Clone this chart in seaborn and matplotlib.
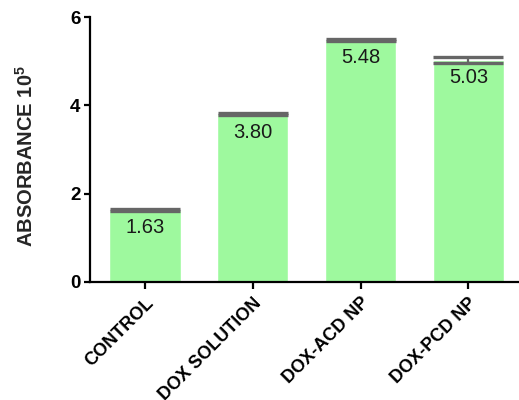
import numpy as np
import pandas as pd
import matplotlib
matplotlib.use("Agg")
import matplotlib.pyplot as plt
import seaborn as sns

# Absorbance readings (x10^5) per formulation
groups = ["CONTROL", "DOX SOLUTION", "DOX-ACD NP", "DOX-PCD NP"]
absorbance = [1.63, 3.80, 5.48, 5.03]
sem = [0.02, 0.03, 0.015, 0.065]
value_labels = ["1.63", "3.80", "5.48", "5.03"]
y_ticks = [0, 2, 4, 6]

sns.set_theme(style="ticks")
plt.rcParams["font.family"] = ["Liberation Sans", "DejaVu Sans"]
plt.rcParams["mathtext.fontset"] = "custom"
plt.rcParams["mathtext.rm"] = "Liberation Sans"
plt.rcParams["mathtext.bf"] = "Liberation Sans:bold"

df = pd.DataFrame({"group": groups, "absorbance": absorbance})

fig = plt.figure(figsize=(5.19, 4.0), dpi=100)
ax = fig.add_axes([90 / 519, 118 / 400, 1 - 90 / 519, 265 / 400])

sns.barplot(data=df, x="group", y="absorbance", color="#9ef99e",
            saturation=1, width=0.66, errorbar=None, ax=ax)

xs = np.arange(len(groups))
ax.errorbar(xs, absorbance, yerr=sem, fmt="none", ecolor="#666666",
            elinewidth=1.6, capsize=25, capthick=2.4, zorder=3)

for x, v, lab in zip(xs, absorbance, value_labels):
    ax.annotate(lab, xy=(x, v), xytext=(0, -6), textcoords="offset points",
                ha="center", va="top", fontsize=14.5, color="#1a1a1a", zorder=4)

ax.set_ylim(0, 6)
ax.set_xlim(-0.51, 3.47)
ax.set_yticks(y_ticks)
ax.set_yticklabels([str(t) for t in y_ticks], fontsize=13.5, fontweight="bold")
ax.set_xticks(xs)
ax.set_xticklabels(groups, rotation=45, ha="right", rotation_mode="anchor",
                   fontsize=13, fontweight="bold")
ax.set_xlabel("")
ax.set_ylabel(r"ABSORBANCE 10$^{\mathbf{5}}$", fontsize=14.5, fontweight="bold")
ax.yaxis.set_label_coords(-0.124, 0.475)

for side in ("top", "right"):
    ax.spines[side].set_visible(False)
for side in ("left", "bottom"):
    ax.spines[side].set_linewidth(1.6)
    ax.spines[side].set_color("black")
ax.tick_params(axis="y", length=4, width=1.6, pad=3, colors="black")
ax.tick_params(axis="x", length=5, width=1.6, pad=4, colors="black")

fig.savefig("out.png", dpi=100)
